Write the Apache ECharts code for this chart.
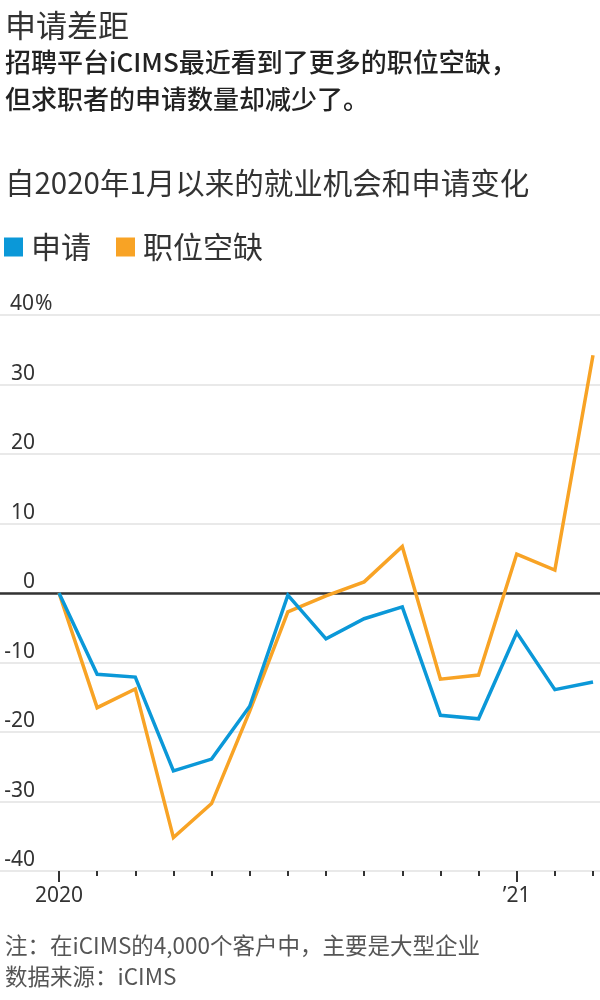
<!DOCTYPE html>
<html lang="zh-cmn-Hans">
<head>
<meta charset="UTF-8">
<title>申请差距</title>
<script src="https://cdn.jsdelivr.net/npm/echarts@6/dist/echarts.min.js"></script>
<style>
  html, body { margin: 0; padding: 0; background: #fff; }
  #main { width: 600px; height: 1000px; }
</style>
</head>
<body>
<div id="main"></div>
<script type="text/javascript">
// 2020年1月 - 2021年3月，逐月
var months = ['2020-01','2020-02','2020-03','2020-04','2020-05','2020-06','2020-07','2020-08',
  '2020-09','2020-10','2020-11','2020-12','2021-01','2021-02','2021-03'];
// 申请（%）
var applications = [0, -11.7, -12.1, -25.6, -23.9, -16.3, -0.3, -6.6, -3.7, -2.0, -17.6, -18.1, -5.7, -13.9, -12.8];
// 职位空缺（%）
var openings = [0, -16.5, -13.8, -35.2, -30.3, -17.0, -2.7, -0.4, 1.6, 6.7, -12.4, -11.8, 5.6, 3.3, 34.2];
var yTicks = [-40, -30, -20, -10, 0, 10, 20, 30, 40];
var xLabels = { '2020-01': '2020', '2021-01': '\u201921' };

var font = '"Noto Sans CJK SC", "Noto Sans", sans-serif';
var numFont = '"Noto Sans", "Noto Sans CJK SC", sans-serif';
var BLUE = '#0b98d8', ORANGE = '#f8a325';

var myChart = echarts.init(document.getElementById('main'), null, { renderer: 'canvas' });

var gridTop = 315, gridBottom = 129;

var option = {
  animation: false,
  backgroundColor: '#fff',
  title: [
    { text: '申请差距', left: 0, top: 5, textStyle: { fontFamily: font, fontSize: 31, fontWeight: 'normal', color: '#333' } },
    { text: '招聘平台iCIMS最近看到了更多的职位空缺，\n但求职者的申请数量却减少了。', left: 0, top: 39,
      textStyle: { fontFamily: font, fontSize: 26, fontWeight: 500, color: '#222', lineHeight: 37 } },
    { text: '自2020年1月以来的就业机会和申请变化', left: 0, top: 163,
      textStyle: { fontFamily: font, fontSize: 29.5, fontWeight: 'normal', color: '#333' } },
    { text: '注：在iCIMS的4,000个客户中，主要是大型企业\n数据来源：iCIMS', left: 0, top: 925,
      textStyle: { fontFamily: font, fontSize: 22.5, fontWeight: 'normal', color: '#555', lineHeight: 31 } }
  ],
  legend: {
    data: ['申请', '职位空缺'],
    left: 4, top: 232, padding: 0,
    icon: 'rect', itemWidth: 19, itemHeight: 19, itemGap: 25,
    selectedMode: false,
    textStyle: { fontFamily: font, fontSize: 30, color: '#333', padding: [0, 0, 0, 3] }
  },
  grid: [
    { left: 0, right: 0, top: gridTop, bottom: gridBottom },
    { left: 59, right: 7, top: gridTop, bottom: gridBottom }
  ],
  xAxis: [
    { // 零线
      gridIndex: 0, type: 'value', min: 0, max: 1,
      axisLine: { show: true, onZero: true, lineStyle: { color: '#333', width: 2.5 } },
      axisTick: { show: false }, axisLabel: { show: false }, splitLine: { show: false }
    },
    { // 月份刻度
      gridIndex: 1, type: 'category', data: months, boundaryGap: false, position: 'bottom',
      axisLine: { show: false, onZero: false },
      axisTick: { show: true, interval: 0, length: 5, lineStyle: { color: '#333', width: 2 } },
      axisLabel: { show: false, interval: 0 }
    },
    { // 年份刻度与标签
      gridIndex: 1, type: 'category', data: months, boundaryGap: false, position: 'bottom',
      axisLine: { show: false, onZero: false },
      axisTick: { show: true, length: 11, interval: function (i) { return i % 12 === 0; }, lineStyle: { color: '#333', width: 2 } },
      axisLabel: {
        show: true, interval: function (i) { return i % 12 === 0; }, margin: 15,
        fontFamily: numFont, fontSize: 21, color: '#333',
        formatter: function (v) { return xLabels[v] || ''; }
      }
    }
  ],
  yAxis: [
    {
      gridIndex: 0, type: 'value', min: yTicks[0], max: yTicks[yTicks.length - 1], interval: 10,
      axisLine: { show: false }, axisTick: { show: false },
      splitLine: { show: true, lineStyle: { color: '#e2e2e2', width: 1.5 } },
      axisLabel: {
        inside: true, margin: 9, align: 'left', verticalAlign: 'bottom',
        fontFamily: numFont, fontSize: 21, color: '#333',
        formatter: function (v) {
          return v === 40 ? '{n|' + v + '}{p|%}' : '{n|' + v + '}';
        },
        rich: {
          n: { width: 26, align: 'right', fontFamily: numFont, fontSize: 21, color: '#333' },
          p: { fontFamily: numFont, fontSize: 21, color: '#333' }
        }
      }
    },
    {
      gridIndex: 1, type: 'value', min: yTicks[0], max: yTicks[yTicks.length - 1], show: false,
      splitLine: { show: false }
    }
  ],
  series: [
    {
      name: '申请', type: 'line', xAxisIndex: 1, yAxisIndex: 1, data: applications,
      symbol: 'none', z: 4, color: BLUE,
      lineStyle: { color: BLUE, width: 3.5, join: 'miter' }
    },
    {
      name: '职位空缺', type: 'line', xAxisIndex: 1, yAxisIndex: 1, data: openings,
      symbol: 'none', z: 3, color: ORANGE,
      lineStyle: { color: ORANGE, width: 3.5, join: 'miter' }
    }
  ]
};

myChart.setOption(option, true);
</script>
</body>
</html>
